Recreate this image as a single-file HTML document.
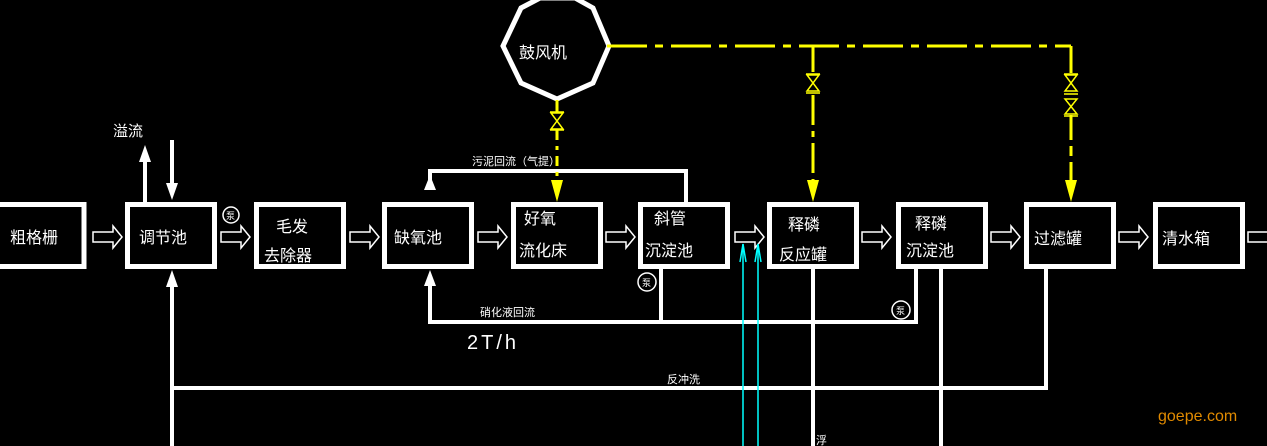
<!DOCTYPE html>
<html><head><meta charset="utf-8"><style>
html,body{margin:0;padding:0;background:#000;}
svg{display:block}
text{font-family:"Liberation Sans","WenQuanYi Zen Hei","Noto Sans CJK SC",sans-serif;fill:#fff}
</style></head><body>
<svg width="1267" height="446" viewBox="0 0 1267 446" xmlns="http://www.w3.org/2000/svg">
<rect width="1267" height="446" fill="#000"/>
<g fill="none" stroke="#fff" stroke-width="5">
<rect x="-3" y="204.5" width="87" height="62"/>
<rect x="127.5" y="204.5" width="87" height="62"/>
<rect x="256.5" y="204.5" width="87" height="62"/>
<rect x="384.5" y="204.5" width="87" height="62"/>
<rect x="513.5" y="204.5" width="87" height="62"/>
<rect x="640.5" y="204.5" width="87" height="62"/>
<rect x="769.5" y="204.5" width="87" height="62"/>
<rect x="898.5" y="204.5" width="87" height="62"/>
<rect x="1026.5" y="204.5" width="87" height="62"/>
<rect x="1155.5" y="204.5" width="87" height="62"/>
<polygon points="503,46 521,8 540,-2 575,-2 593,8 609,46 593,83 557,99 521,83" stroke-width="5"/>
</g>
<g fill="none" stroke="#fff" stroke-width="4">
<polyline points="686,202 686,171 430,171 430,190"/>
<polyline points="661,268 661,322 430,322 430,285"/>
<polyline points="916,268 916,322 661,322"/>
<polyline points="172,446 172,285"/>
<polyline points="172,388 1046,388 1046,268"/>
<line x1="813" y1="268" x2="813" y2="446"/>
<line x1="941" y1="268" x2="941" y2="446"/>
<line x1="145" y1="202" x2="145" y2="160"/>
<line x1="172" y1="140" x2="172" y2="185"/>
</g>
<g fill="#fff">
<polygon points="139,162 151,162 145,145"/>
<polygon points="166,183 178,183 172,200"/>
<polygon points="424,190 436,190 430,175"/>
<polygon points="424,286 436,286 430,270"/>
<polygon points="166,287 178,287 172,270"/>
</g>
<g fill="none" stroke="#fff" stroke-width="1.5">
<path d="M93,232h20v-6l9,11l-9,11v-6h-20z"/>
<path d="M221,232h20v-6l9,11l-9,11v-6h-20z"/>
<path d="M350,232h20v-6l9,11l-9,11v-6h-20z"/>
<path d="M478,232h20v-6l9,11l-9,11v-6h-20z"/>
<path d="M606,232h20v-6l9,11l-9,11v-6h-20z"/>
<path d="M735,232h20v-6l9,11l-9,11v-6h-20z"/>
<path d="M862,232h20v-6l9,11l-9,11v-6h-20z"/>
<path d="M991,232h20v-6l9,11l-9,11v-6h-20z"/>
<path d="M1119,232h20v-6l9,11l-9,11v-6h-20z"/>
<path d="M1248,232h20v-6l9,11l-9,11v-6h-20z"/>
<circle cx="231" cy="215" r="8"/>
<circle cx="647" cy="282" r="9"/>
<circle cx="901" cy="310" r="9"/>
</g>
<g stroke="#0ff" stroke-width="1.5">
<line x1="743" y1="244" x2="743" y2="446"/>
<line x1="758" y1="244" x2="758" y2="446"/>
<path d="M740,262 L743,244 L746,262 M755,262 L758,244 L761,262" fill="none"/>
</g>
<g stroke="#ff0" stroke-width="3" fill="none">
<line x1="607" y1="46" x2="1071" y2="46" stroke-dasharray="40,8,8,8"/>
<line x1="557" y1="100" x2="557" y2="112"/>
<line x1="557" y1="130" x2="557" y2="182" stroke-dasharray="10,6,4,6"/>
<line x1="813" y1="46" x2="813" y2="72"/>
<line x1="813" y1="95" x2="813" y2="182" stroke-dasharray="30,6,6,6"/>
<line x1="1071" y1="46" x2="1071" y2="73"/>
<line x1="1071" y1="115" x2="1071" y2="182" stroke-dasharray="25,6,10,6"/>
</g>
<g stroke="#ff0" stroke-width="1.5" fill="none">
<path d="M551,113h12l-12,16h12z M550,112h14 M550,130h14"/>
<path d="M807,75h12l-12,16h12z M806,74h14 M806,93h14"/>
<path d="M1065,75h12l-12,16h12z M1064,74h14 M1064,94h14"/>
<path d="M1065,99h12l-12,15h12z M1064,116h14"/>
</g>
<g fill="#ff0">
<polygon points="551,180 563,180 557,202"/>
<polygon points="807,180 819,180 813,202"/>
<polygon points="1065,180 1077,180 1071,202"/>
</g>
<g font-size="16">
<text x="10" y="243">粗格栅</text>
<text x="139" y="243">调节池</text>
<text x="276" y="232">毛发</text>
<text x="264" y="261">去除器</text>
<text x="394" y="243">缺氧池</text>
<text x="524" y="224">好氧</text>
<text x="519" y="256">流化床</text>
<text x="654" y="224">斜管</text>
<text x="645" y="256">沉淀池</text>
<text x="788" y="230">释磷</text>
<text x="779" y="260">反应罐</text>
<text x="915" y="229">释磷</text>
<text x="906" y="256">沉淀池</text>
<text x="1034" y="244">过滤罐</text>
<text x="1162" y="244">清水箱</text>
<text x="519" y="58">鼓风机</text>
<text x="113" y="136" font-size="15">溢流</text>
</g>
<g font-size="11">
<text x="472" y="165">污泥回流（气提）</text>
<text x="480" y="316">硝化液回流</text>
<text x="667" y="383">反冲洗</text>
<text x="816" y="444">浮</text>
<text x="226" y="219" font-size="9">泵</text>
<text x="642" y="286" font-size="9">泵</text>
<text x="896" y="314" font-size="9">泵</text>
</g>
<text x="467" y="349" font-size="20" style="letter-spacing:3px">2T/h</text>
<text x="1158" y="421" font-size="16" style="fill:#e08a00">goepe.com</text>
</svg>
</body></html>
